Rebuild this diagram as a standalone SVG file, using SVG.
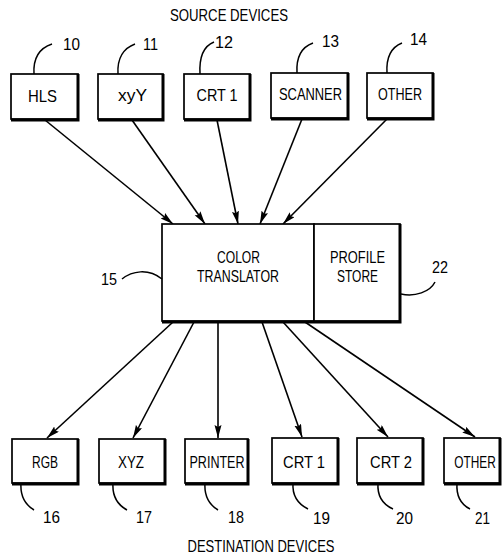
<svg xmlns="http://www.w3.org/2000/svg" width="502" height="555" viewBox="0 0 502 555">
<style>
text{font-family:"Liberation Sans",Arial,sans-serif;font-size:16.5px;fill:#000}
.c{text-anchor:middle}
.box{fill:#fff;stroke:#000;stroke-width:1.7}
.sh{fill:none;stroke:#000;stroke-width:3}
.ld{fill:none;stroke:#000;stroke-width:1.5}
.ar{stroke:#000;stroke-width:1.6;fill:none;marker-end:url(#ah)}
</style>
<defs>
<marker id="ah" markerUnits="userSpaceOnUse" markerWidth="14" markerHeight="8" refX="13" refY="3.5" orient="auto">
<path d="M0,0 L13,3.5 L0,7 L2,3.5 z" fill="#000"/>
</marker>
</defs>
<rect width="502" height="555" fill="#fff"/>
<text x="229" y="21" class="c" textLength="118" lengthAdjust="spacingAndGlyphs">SOURCE  DEVICES</text>
<text x="261" y="552" class="c" textLength="147" lengthAdjust="spacingAndGlyphs">DESTINATION  DEVICES</text>

<g id="connectors">
<line class="ar" x1="45" y1="120" x2="173" y2="224"/>
<line class="ar" x1="132" y1="120" x2="205" y2="224"/>
<line class="ar" x1="217" y1="120" x2="238" y2="224"/>
<line class="ar" x1="302" y1="119" x2="260" y2="224"/>
<line class="ar" x1="387" y1="119" x2="283" y2="224"/>
<line class="ar" x1="173" y1="322" x2="47" y2="438"/>
<line class="ar" x1="194" y1="322" x2="133" y2="438"/>
<line class="ar" x1="218" y1="322" x2="218" y2="438"/>
<line class="ar" x1="262" y1="322" x2="302" y2="437"/>
<line class="ar" x1="283" y1="322" x2="388" y2="437"/>
<line class="ar" x1="305" y1="322" x2="475" y2="437"/>
</g>

<g id="n10">
<rect class="box" x="11" y="74" width="67" height="45"/>
<path class="sh" d="M78,74 V120 H11"/>
<text x="42.5" y="102" class="c" textLength="29" lengthAdjust="spacingAndGlyphs">HLS</text>
<path class="ld" d="M34,74 C33,58 40,48 52,44"/>
<text x="63" y="50" textLength="17" lengthAdjust="spacingAndGlyphs">10</text>
</g>
<g id="n11">
<rect class="box" x="98" y="74" width="65" height="45"/>
<path class="sh" d="M163,74 V120 H98"/>
<text x="132.5" y="101" class="c" textLength="29" lengthAdjust="spacingAndGlyphs">xyY</text>
<path class="ld" d="M118,74 C117,58 124,48 135,44"/>
<text x="143" y="50" textLength="15" lengthAdjust="spacingAndGlyphs">11</text>
</g>
<g id="n12">
<rect class="box" x="184" y="74" width="66" height="45"/>
<path class="sh" d="M250,74 V120 H184"/>
<text x="217" y="101" class="c" textLength="41" lengthAdjust="spacingAndGlyphs">CRT  1</text>
<path class="ld" d="M200,74 C199,56 204,46 214,42"/>
<text x="215" y="48" textLength="18" lengthAdjust="spacingAndGlyphs">12</text>
</g>
<g id="n13">
<rect class="box" x="271" y="73" width="77" height="45"/>
<path class="sh" d="M348,73 V119 H271"/>
<text x="310.5" y="100" class="c" textLength="63" lengthAdjust="spacingAndGlyphs">SCANNER</text>
<path class="ld" d="M297,73 C296,57 302,47 313,43"/>
<text x="322" y="47" textLength="17" lengthAdjust="spacingAndGlyphs">13</text>
</g>
<g id="n14">
<rect class="box" x="367" y="73" width="66" height="45"/>
<path class="sh" d="M433,73 V119 H367"/>
<text x="400" y="100" class="c" textLength="44" lengthAdjust="spacingAndGlyphs">OTHER</text>
<path class="ld" d="M387,73 C386,57 392,47 402,43"/>
<text x="410" y="45" textLength="17" lengthAdjust="spacingAndGlyphs">14</text>
</g>

<g id="n15">
<rect class="box" x="162" y="224" width="152" height="97"/>
<text x="238.5" y="263" class="c" textLength="43" lengthAdjust="spacingAndGlyphs">COLOR</text>
<text x="238" y="282" class="c" textLength="82" lengthAdjust="spacingAndGlyphs">TRANSLATOR</text>
<path class="ld" d="M122,279 C132,271 148,268 162,279"/>
<text x="101" y="285" textLength="16" lengthAdjust="spacingAndGlyphs">15</text>
</g>
<g id="n22">
<rect class="box" x="314" y="224" width="86" height="97"/>
<path class="sh" d="M400,224 V322 H162"/>
<text x="357.5" y="263" class="c" textLength="55" lengthAdjust="spacingAndGlyphs">PROFILE</text>
<text x="357.5" y="282" class="c" textLength="41" lengthAdjust="spacingAndGlyphs">STORE</text>
<path class="ld" d="M401,294 C415,297 430,292 435,282"/>
<text x="432" y="273" textLength="16" lengthAdjust="spacingAndGlyphs">22</text>
</g>

<g id="n16">
<rect class="box" x="12" y="439" width="66" height="44"/>
<path class="sh" d="M78,439 V484 H12"/>
<text x="45" y="468" class="c" textLength="26" lengthAdjust="spacingAndGlyphs">RGB</text>
<path class="ld" d="M21,483 C20,497 26,505 34,510"/>
<text x="43" y="523" textLength="17" lengthAdjust="spacingAndGlyphs">16</text>
</g>
<g id="n17">
<rect class="box" x="99" y="439" width="66" height="44"/>
<path class="sh" d="M165,439 V484 H99"/>
<text x="131" y="468" class="c" textLength="26" lengthAdjust="spacingAndGlyphs">XYZ</text>
<path class="ld" d="M113,483 C112,497 118,505 127,510"/>
<text x="136" y="523" textLength="16" lengthAdjust="spacingAndGlyphs">17</text>
</g>
<g id="n18">
<rect class="box" x="185" y="439" width="63" height="44"/>
<path class="sh" d="M248,439 V484 H185"/>
<text x="217" y="468" class="c" textLength="55" lengthAdjust="spacingAndGlyphs">PRINTER</text>
<path class="ld" d="M205,483 C204,497 210,505 218,510"/>
<text x="228" y="523" textLength="16" lengthAdjust="spacingAndGlyphs">18</text>
</g>
<g id="n19">
<rect class="box" x="272" y="438" width="66" height="45"/>
<path class="sh" d="M338,438 V484 H272"/>
<text x="304" y="468" class="c" textLength="42" lengthAdjust="spacingAndGlyphs">CRT  1</text>
<path class="ld" d="M293,483 C292,497 300,505 308,509"/>
<text x="313" y="524" textLength="17" lengthAdjust="spacingAndGlyphs">19</text>
</g>
<g id="n20">
<rect class="box" x="357" y="438" width="66" height="45"/>
<path class="sh" d="M423,438 V484 H357"/>
<text x="391" y="468" class="c" textLength="42" lengthAdjust="spacingAndGlyphs">CRT  2</text>
<path class="ld" d="M378,483 C377,497 384,505 393,509"/>
<text x="396" y="524" textLength="17" lengthAdjust="spacingAndGlyphs">20</text>
</g>
<g id="n21">
<rect class="box" x="444" y="438" width="56" height="45"/>
<path class="sh" d="M500,438 V484 H444"/>
<text class="c" transform="translate(475,468) scale(0.72,1)" x="0" y="0">OTHER</text>
<path class="ld" d="M457,483 C456,497 462,505 470,509"/>
<text x="475" y="524" textLength="15" lengthAdjust="spacingAndGlyphs">21</text>
</g>
</svg>
